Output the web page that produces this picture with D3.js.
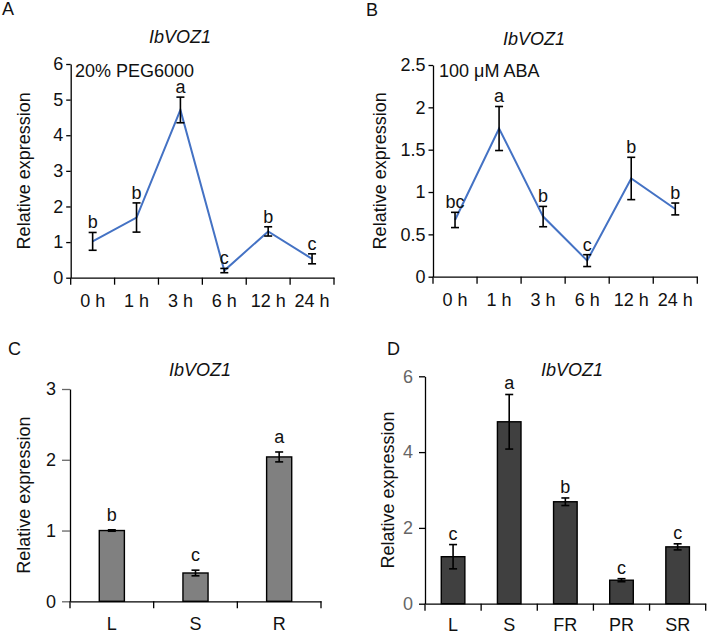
<!DOCTYPE html>
<html>
<head>
<meta charset="utf-8">
<script src="https://cdn.jsdelivr.net/npm/d3@7"></script>
<style>
  body { margin: 0; background: #fff; }
  svg text { font-family: "Liberation Sans", Arial, sans-serif; }
</style>
</head>
<body>
<div id="chart"></div>
<script>
// data
const timeCats = ['0 h', '1 h', '3 h', '6 h', '12 h', '24 h']
const pegValues = [1.02, 1.69, 4.71, 0.20, 1.30, 0.53]
const pegErrors = [0.25, 0.41, 0.36, 0.06, 0.13, 0.14]
const pegLetters = ['b', 'b', 'a', 'c', 'b', 'c']
const pegTicks = [0, 1, 2, 3, 4, 5, 6]

const abaValues = [0.67, 1.75, 0.71, 0.19, 1.16, 0.80]
const abaErrors = [0.09, 0.26, 0.12, 0.07, 0.25, 0.07]
const abaLetters = ['bc', 'a', 'b', 'c', 'b', 'b']
const abaTicks = [0, 0.5, 1, 1.5, 2, 2.5]

const organCats = ['L', 'S', 'R']
const organValues = [1.00, 0.40, 2.04]
const organErrors = [0.01, 0.04, 0.07]
const organLetters = ['b', 'c', 'a']
const organTicks = [0, 1, 2, 3]

const tissueCats = ['L', 'S', 'FR', 'PR', 'SR']
const tissueValues = [1.24, 4.80, 2.69, 0.62, 1.50]
const tissueErrors = [0.32, 0.72, 0.10, 0.04, 0.08]
const tissueLetters = ['c', 'a', 'b', 'c', 'c']
const tissueTicks = [0, 2, 4, 6]

const W = 708, H = 635
const svg = d3.select('#chart').append('svg')
  .attr('width', W).attr('height', H)

// shared axis drawing
function drawAxes(g, p, x, y) {
  const yAxis = d3.axisLeft(y).tickValues(p.ticks).tickSize(p.yTick).tickSizeOuter(0)
    .tickPadding(p.yPad).tickFormat(d => d)
  const ya = g.append('g').attr('transform', `translate(${p.left},0)`).call(yAxis)
  ya.select('.domain').attr('stroke', '#000').attr('stroke-width', 1.3)
  ya.selectAll('.tick line').attr('stroke', p.tickLineColor).attr('stroke-width', 1.3)
  ya.selectAll('.tick text').attr('fill', p.tickColor)
    .style('font-size', '18px').style('font-family', '"Liberation Sans", Arial, sans-serif')

  // x axis: labels at centers, tick marks at band edges
  const xAxis = d3.axisBottom(x).tickSize(0).tickPadding(p.xPad)
  const xa = g.append('g').attr('transform', `translate(0,${p.bottom})`).call(xAxis)
  xa.select('.domain').attr('stroke', '#000').attr('stroke-width', 1.3)
  xa.selectAll('.tick text').attr('fill', '#111')
    .style('font-size', '18px').style('font-family', '"Liberation Sans", Arial, sans-serif')
  const edges = x.domain().map(d => x(d)).concat([x(x.domain()[x.domain().length - 1]) + x.bandwidth()])
  g.selectAll('.xedge').data(edges).join('line')
    .attr('x1', d => d).attr('x2', d => d)
    .attr('y1', p.bottom).attr('y2', p.bottom + p.xTick)
    .attr('stroke', '#000').attr('stroke-width', 1.3)

  // y label
  g.append('text')
    .attr('transform', `translate(${p.ylabX},${(p.top + p.bottom) / 2}) rotate(-90)`)
    .attr('text-anchor', 'middle').attr('dominant-baseline', 'middle')
    .style('font-size', '18px').attr('fill', '#111')
    .text('Relative expression')
  // title
  g.append('text').attr('x', p.titleX).attr('y', p.titleY)
    .attr('text-anchor', 'middle').style('font-size', '18px').style('font-style', 'italic')
    .attr('fill', '#111').text('IbVOZ1')
  // panel letter
  g.append('text').attr('x', p.tagX).attr('y', p.tagY)
    .style('font-size', '18px').attr('fill', '#111').text(p.tag)
}

function errorBars(g, cats, vals, errs, cx, y, cap) {
  const rows = cats.map((c, i) => ({ c, v: vals[i], e: errs[i] }))
  const eb = g.selectAll('.eb').data(rows).join('g')
  eb.append('line')
    .attr('x1', d => cx(d.c)).attr('x2', d => cx(d.c))
    .attr('y1', d => y(d.v - d.e)).attr('y2', d => y(d.v + d.e))
  eb.append('line')
    .attr('x1', d => cx(d.c) - cap).attr('x2', d => cx(d.c) + cap)
    .attr('y1', d => y(d.v + d.e)).attr('y2', d => y(d.v + d.e))
  eb.append('line')
    .attr('x1', d => cx(d.c) - cap).attr('x2', d => cx(d.c) + cap)
    .attr('y1', d => y(d.v - d.e)).attr('y2', d => y(d.v - d.e))
  eb.selectAll('line').attr('stroke', '#000').attr('stroke-width', 1.6)
}

function letters(g, cats, vals, errs, letts, cx, y, gap) {
  g.selectAll('.lt').data(cats).join('text')
    .attr('x', d => cx(d))
    .attr('y', (d, i) => y(vals[i] + errs[i]) - gap)
    .attr('text-anchor', 'middle').style('font-size', '18px').attr('fill', '#111')
    .text((d, i) => letts[i])
}

// line charts (A, B)
function drawLineChart(p) {
  const g = svg.append('g')
  const x = d3.scaleBand().domain(p.cats).range([p.left, p.right]).padding(0)
  const y = d3.scaleLinear().domain([0, p.ymax]).range([p.bottom, p.top])
  const cx = d => x(d) + x.bandwidth() / 2
  drawAxes(g, p, x, y)

  const line = d3.line().x((d, i) => cx(p.cats[i])).y(d => y(d))
  g.append('path').datum(p.values)
    .attr('fill', 'none').attr('stroke', '#4472C4').attr('stroke-width', 2)
    .attr('d', line)
  errorBars(g, p.cats, p.values, p.errors, cx, y, 4)
  letters(g, p.cats, p.values, p.errors, p.letters, cx, y, 4)

  g.append('text').attr('x', p.noteX).attr('y', p.noteY)
    .style('font-size', '18px').attr('fill', '#111').text(p.note)
}

// bar charts (C, D)
function drawBarChart(p) {
  const g = svg.append('g')
  const x = d3.scaleBand().domain(p.cats).range([p.left, p.right]).padding(0)
  const y = d3.scaleLinear().domain([0, p.ymax]).range([p.bottom, p.top])
  const cx = d => x(d) + x.bandwidth() / 2
  const bw = x.bandwidth() * p.barFrac

  g.selectAll('.bar').data(p.cats).join('rect')
    .attr('x', d => cx(d) - bw / 2)
    .attr('y', (d, i) => y(p.values[i]))
    .attr('width', bw)
    .attr('height', (d, i) => y(0) - y(p.values[i]))
    .attr('fill', p.fill).attr('stroke', '#000').attr('stroke-width', 1.4)
  drawAxes(g, p, x, y)
  errorBars(g, p.cats, p.values, p.errors, cx, y, 4)
  letters(g, p.cats, p.values, p.errors, p.letters, cx, y, p.gap)
}

drawLineChart({
  cats: timeCats, values: pegValues, errors: pegErrors, letters: pegLetters, ticks: pegTicks, ymax: 6,
  left: 70.7, right: 334, top: 64, bottom: 277.7,
  yTick: 4.5, yPad: 3, xTick: 7, xPad: 17, tickColor: '#111', tickLineColor: '#000',
  ylabX: 25, titleX: 180, titleY: 43, tag: 'A', tagX: 2, tagY: 15,
  note: '20% PEG6000', noteX: 75, noteY: 77
})

drawLineChart({
  cats: timeCats, values: abaValues, errors: abaErrors, letters: abaLetters, ticks: abaTicks, ymax: 2.5,
  left: 433, right: 697.3, top: 65, bottom: 276.7,
  yTick: 4.5, yPad: 3, xTick: 7, xPad: 17, tickColor: '#111', tickLineColor: '#000',
  ylabX: 381, titleX: 534, titleY: 45, tag: 'B', tagX: 366, tagY: 16,
  note: '100 μM ABA', noteX: 439, noteY: 77
})

drawBarChart({
  cats: organCats, values: organValues, errors: organErrors, letters: organLetters, ticks: organTicks, ymax: 3,
  left: 70, right: 321, top: 389, bottom: 601.3, barFrac: 0.3, fill: '#808080', gap: 9,
  yTick: 8, yPad: 6, xTick: 7, xPad: 16, tickColor: '#111', tickLineColor: '#666',
  ylabX: 25, titleX: 200, titleY: 376, tag: 'C', tagX: 8, tagY: 355
})

drawBarChart({
  cats: tissueCats, values: tissueValues, errors: tissueErrors, letters: tissueLetters, ticks: tissueTicks, ymax: 6,
  left: 425, right: 705.7, top: 376.3, bottom: 603.7, barFrac: 0.42, fill: '#404040', gap: 5,
  yTick: 6, yPad: 6, xTick: 7, xPad: 15, tickColor: '#666', tickLineColor: '#000',
  ylabX: 389, titleX: 572, titleY: 376, tag: 'D', tagX: 387, tagY: 355
})
</script>
</body>
</html>
